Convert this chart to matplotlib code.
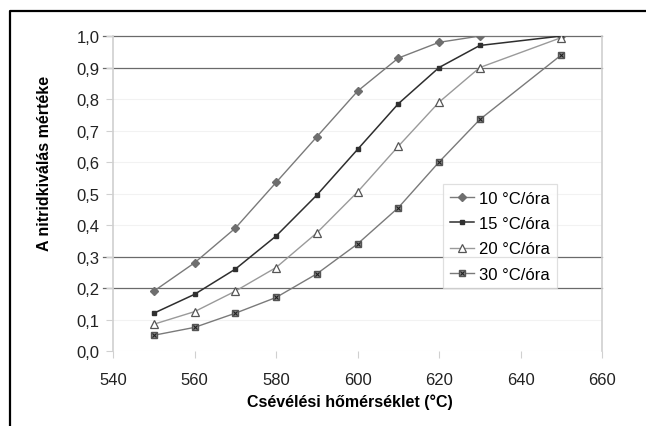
import matplotlib
matplotlib.use("Agg")
import matplotlib.pyplot as plt
from matplotlib.lines import Line2D

plt.rcParams["font.family"] = ["Liberation Sans", "DejaVu Sans"]

# Csévélési hőmérséklet (°C)
temps = [550, 560, 570, 580, 590, 600, 610, 620, 630, 650]
rate_10 = [0.19, 0.28, 0.39, 0.535, 0.68, 0.825, 0.93, 0.98, 1.0, 1.0]
rate_15 = [0.12, 0.18, 0.26, 0.365, 0.495, 0.64, 0.785, 0.90, 0.97, 1.0]
rate_20 = [0.085, 0.125, 0.19, 0.265, 0.375, 0.505, 0.65, 0.79, 0.90, 0.995]
rate_30 = [0.05, 0.075, 0.12, 0.17, 0.245, 0.34, 0.455, 0.60, 0.735, 0.94]
labels = ["10 °C/óra", "15 °C/óra", "20 °C/óra", "30 °C/óra"]

x_ticks = [540, 560, 580, 600, 620, 640, 660]
y_ticks = [0.0, 0.1, 0.2, 0.3, 0.4, 0.5, 0.6, 0.7, 0.8, 0.9, 1.0]
dark_grid = [0.2, 0.3, 0.9, 1.0]

fig = plt.figure(figsize=(6.46, 4.27), dpi=100)
ax = fig.add_axes([0.175, 0.1756, 0.757, 0.7377])

# faint grid + dark grid lines (as in the scanned original)
for y in y_ticks:
    if y not in dark_grid:
        ax.axhline(y, color="#f2f2f2", lw=0.8, zorder=0)
for y in dark_grid:
    ax.axhline(y, xmin=-0.02, xmax=1.0, color="#6a6a6a", lw=0.9, zorder=1, clip_on=False)

h10, = ax.plot(temps, rate_10, color="#7a7a7a", lw=1.0, marker="D", ms=4.5,
               mfc="#6e6e6e", mec="#6e6e6e", zorder=3)
h15, = ax.plot(temps, rate_15, color="#2e2e2e", lw=1.1, marker="s", ms=3.2,
               mfc="#303030", mec="#303030", zorder=3)
h20, = ax.plot(temps, rate_20, color="#9a9a9a", lw=1.0, marker="^", ms=6,
               mfc="white", mec="#555555", mew=0.9, zorder=3)
h30, = ax.plot(temps, rate_30, color="#7a7a7a", lw=1.0, marker="s", ms=5,
               mfc="#8a8a8a", mec="#555555", zorder=3)
h30x, = ax.plot(temps, rate_30, ls="none", marker="x", ms=3.5,
                mec="#222222", mew=0.8, zorder=4)

ax.set_xlim(540, 660)
ax.set_ylim(0, 1.0)
ax.set_xticks(x_ticks)
ax.set_yticks(y_ticks)
ax.set_yticklabels([f"{v:.1f}".replace(".", ",") for v in y_ticks])

for side in ["top", "bottom"]:
    ax.spines[side].set_visible(False)
for side in ["left", "right"]:
    ax.spines[side].set_color("#d0d0d0")
    ax.spines[side].set_linewidth(1.2)
ax.tick_params(axis="x", length=5, color="#d0d0d0", labelsize=12, pad=10, labelcolor="#222222")
ax.tick_params(axis="y", length=5, color="#d0d0d0", labelsize=12, pad=4.5, labelcolor="#222222")

ax.set_xlabel("Csévélési hőmérséklet (°C)", fontsize=11.5, fontweight="bold")
ax.set_ylabel("A nitridkiválás mértéke", fontsize=11.5, fontweight="bold")
ax.xaxis.set_label_coords(0.485, -0.135)
ax.yaxis.set_label_coords(-0.125, 0.60)

leg = ax.legend([h10, h15, h20, (h30, h30x)], labels, loc="upper left",
                bbox_to_anchor=(0.675, 0.53), borderaxespad=0, fontsize=12,
                frameon=True, fancybox=False, edgecolor="#d8d8d8",
                handlelength=1.45, handletextpad=0.3, borderpad=0.4,
                labelspacing=0.62)
leg.get_frame().set_linewidth(0.9)

# frame of the cropped figure
fig.add_artist(Line2D([0.0155, 0.0155, 1.0], [0.0, 0.972, 0.972],
                      color="black", lw=1.6, transform=fig.transFigure))

fig.savefig("out.png", dpi=100)
